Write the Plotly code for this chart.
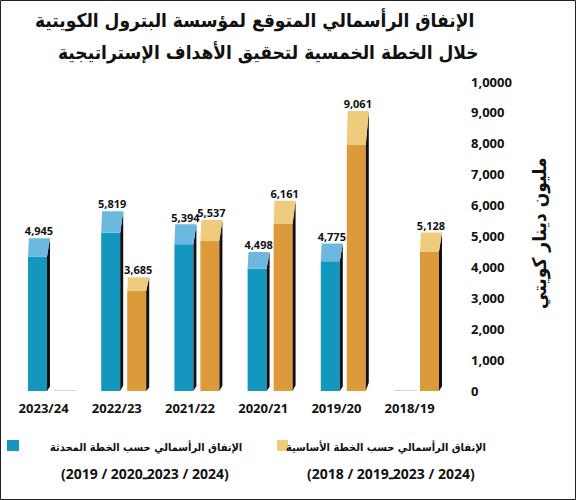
import plotly.graph_objects as go

# ---- data ----
categories = ["2023/24", "2022/23", "2021/22", "2020/21", "2019/20", "2018/19"]
updated_plan = [4945, 5819, 5394, 4498, 4775, None]      # blue
base_plan = [None, 3685, 5537, 6161, 9061, 5128]         # orange
y_ticks = [0, 1000, 2000, 3000, 4000, 5000, 6000, 7000, 8000, 9000, 10000]
y_ticktext = ["0", "1,000", "2,000", "3,000", "4,000", "5,000", "6,000", "7,000", "8,000", "9,000", "1,0000"]
title_lines = ["الإنفاق الرأسمالي المتوقع لمؤسسة البترول الكويتية",
               "خلال الخطة الخمسية لتحقيق الأهداف الإستراتيجية"]
y_title = "مليون دينار كويتي"
legend_blue = ["الإنفاق الرأسمالي حسب الخطة المحدثة", "\u202d(2019 / 2020ـ2023 / 2024)\u202c"]
legend_orange = ["الإنفاق الرأسمالي حسب الخطة الأساسية", "\u202d(2018 / 2019ـ2023 / 2024)\u202c"]

# ---- style ----
W, H = 576, 500
PL, PR, PT, PB = 10, 465, 82, 391          # plot area pixels
UNIT = 73.2                                 # px per category
X0PIX = 52                                  # pixel of category 0 centre
xr0 = -(X0PIX - PL) / UNIT
xr1 = xr0 + (PR - PL) / UNIT

BW = 19 / UNIT        # front face width
SL = 3 / UNIT         # side / slant width
FRONT_K = 0.88        # front face height fraction (3D perspective)
blue_off = -24 / UNIT
orange_off = 2 / UNIT

BLUE_F, BLUE_T = "#1497bf", "#6db8de"
ORA_F, ORA_T = "#dc9a3b", "#efcb7e"
SIDE = "#111111"

AR_FONT = "DejaVu Sans Condensed, DejaVu Sans"
NUM_FONT = "Open Sans"


def px(x):
    return (x - PL) / (PR - PL)


def py(y):
    return (PB - y) / (PB - PT)


fig = go.Figure()


def add_series(values, off, cf, ct, name):
    xs = [i for i, v in enumerate(values) if v is not None]
    vs = [v for v in values if v is not None]
    # front faces
    fig.add_trace(go.Bar(x=xs, y=[v * FRONT_K for v in vs], width=BW, offset=off,
                         marker=dict(color=cf, line=dict(width=0)), name=name,
                         showlegend=False, hoverinfo="skip"))
    top_x, top_y, side_x, side_y = [], [], [], []
    for i, v in zip(xs, vs):
        L = i + off
        R = L + BW
        yf = v * FRONT_K
        top_x += [L, R, R + SL, L + SL * 0.3, L, None]
        top_y += [yf, yf, v, v, yf, None]
        side_x += [R, R + SL, R + SL, R, R, None]
        side_y += [yf, v, v * 0.03, 0, yf, None]
    fig.add_trace(go.Scatter(x=side_x, y=side_y, fill="toself", fillcolor=SIDE,
                             mode="lines", line=dict(width=0, color=SIDE),
                             showlegend=False, hoverinfo="skip"))
    fig.add_trace(go.Scatter(x=top_x, y=top_y, fill="toself", fillcolor=ct,
                             mode="lines", line=dict(width=0, color=ct),
                             showlegend=False, hoverinfo="skip"))
    # value labels
    fig.add_trace(go.Scatter(x=[i + off + (BW + SL) / 2 for i in xs], y=vs,
                             mode="text", text=[f"{v:,}" for v in vs],
                             textposition="top center",
                             textfont=dict(family=NUM_FONT, size=11, color="#111", weight="bold"),
                             showlegend=False, hoverinfo="skip"))
    # missing values: thin grey baseline
    miss = [i for i, v in enumerate(values) if v is None]
    mx, my = [], []
    for i in miss:
        mx += [i + off, i + off + BW + SL + 1 / UNIT, None]
        my += [0, 0, None]
    if mx:
        fig.add_trace(go.Scatter(x=mx, y=my, mode="lines",
                                 line=dict(color="#c8c8c8", width=1.5),
                                 showlegend=False, hoverinfo="skip"))


add_series(updated_plan, blue_off, BLUE_F, BLUE_T, legend_blue[0])
add_series(base_plan, orange_off, ORA_F, ORA_T, legend_orange[0])

annotations = []
# title
annotations.append(dict(x=px(254), y=py(20), text="<b>" + title_lines[0] + "</b>", showarrow=False,
                         xref="paper", yref="paper", xanchor="center", yanchor="middle",
                         font=dict(family=AR_FONT, size=19, color="#111")))
annotations.append(dict(x=px(268), y=py(52), text="<b>" + title_lines[1] + "</b>", showarrow=False,
                         xref="paper", yref="paper", xanchor="center", yanchor="middle",
                         font=dict(family=AR_FONT, size=19, color="#111")))
# y title
annotations.append(dict(x=px(539), y=py(233), text="<b>" + y_title + "</b>", showarrow=False,
                         xref="paper", yref="paper", xanchor="center", yanchor="middle",
                         textangle=-90, font=dict(family=AR_FONT, size=19, color="#111")))
# legend texts
for cx1, cx2, lines in ((386, 391, legend_orange), (146, 145, legend_blue)):
    annotations.append(dict(x=px(cx1), y=py(447), text="<b>" + lines[0] + "</b>", showarrow=False,
                             xref="paper", yref="paper", xanchor="center", yanchor="middle",
                             font=dict(family=AR_FONT, size=11, color="#111")))
    annotations.append(dict(x=px(cx2), y=py(473), text="<b>" + lines[1] + "</b>", showarrow=False,
                             xref="paper", yref="paper", xanchor="center", yanchor="middle",
                             font=dict(family=NUM_FONT, size=14, color="#111")))

shapes = [
    dict(type="rect", xref="paper", yref="paper", x0=px(277), x1=px(288), y0=py(440), y1=py(451),
         fillcolor=ORA_T, line=dict(width=0)),
    dict(type="rect", xref="paper", yref="paper", x0=px(7), x1=px(19), y0=py(440), y1=py(451),
         fillcolor=BLUE_F, line=dict(width=0)),
    dict(type="rect", xref="paper", yref="paper", x0=px(0.5), x1=px(W - 0.5), y0=py(0.5), y1=py(H - 0.5),
         fillcolor="rgba(0,0,0,0)", line=dict(width=1, color="#222")),
]

fig.update_layout(
    width=W, height=H,
    margin=dict(l=PL, r=W - PR, t=PT, b=H - PB, pad=0),
    paper_bgcolor="white", plot_bgcolor="white",
    barmode="overlay", showlegend=False,
    annotations=annotations, shapes=shapes,
    xaxis=dict(range=[xr0, xr1], tickmode="array",
               tickvals=[i - 0.115 for i in range(len(categories))], ticktext=categories,
               showgrid=False, zeroline=False, showline=False, ticks="",
               ticklabelstandoff=8,
               tickfont=dict(family=NUM_FONT, size=13, color="#111", weight="bold")),
    yaxis=dict(range=[0, 10000], side="right", tickmode="array", tickvals=y_ticks,
               ticktext=y_ticktext, showgrid=False, zeroline=False, showline=False, ticks="",
               ticklabelstandoff=5,
               tickfont=dict(family=NUM_FONT, size=13, color="#111", weight="bold")),
)

fig.write_html("out.html")
